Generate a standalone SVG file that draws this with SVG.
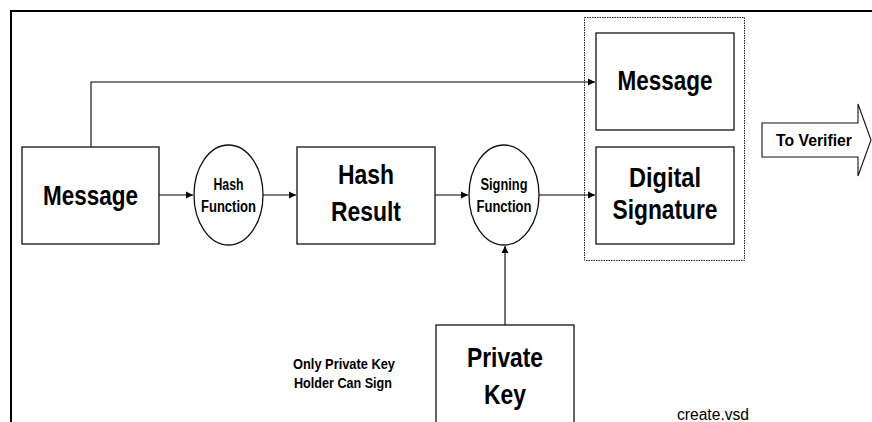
<svg xmlns="http://www.w3.org/2000/svg" width="872" height="422" viewBox="0 0 872 422">
<defs>
<marker id="ah" markerWidth="8" markerHeight="8" refX="7" refY="4" orient="auto" markerUnits="userSpaceOnUse"><path d="M0,0.5 L7,4 L0,7.5 Z" fill="#000"/></marker>
</defs>
<style>
.box{fill:#fff;stroke:#111;stroke-width:1.3}
.con{fill:none;stroke:#000;stroke-width:1.1}
.t{font-family:"Liberation Sans",Arial,sans-serif;font-weight:bold;fill:#000;text-anchor:middle}
.big{font-size:28px}
.sm{font-size:16px}
.note{font-size:14px}
.plain{font-family:"Liberation Sans",Arial,sans-serif;font-size:16px;fill:#000;text-anchor:middle}
</style>
<rect width="872" height="422" fill="#fff"/>
<path d="M11,422 V11 H872" fill="none" stroke="#000" stroke-width="2"/>
<g id="container">
<rect x="584.5" y="17.5" width="160" height="243" fill="none" stroke="#222" stroke-width="1" stroke-dasharray="1.5,1"/>
</g>
<g id="connectors">
<path class="con" d="M91,147 V82 H595" marker-end="url(#ah)"/>
<path class="con" d="M159,195 H193" marker-end="url(#ah)"/>
<path class="con" d="M263,195 H296" marker-end="url(#ah)"/>
<path class="con" d="M435,195 H468" marker-end="url(#ah)"/>
<path class="con" d="M539,195 H595" marker-end="url(#ah)"/>
<path class="con" d="M505,325 V246" marker-end="url(#ah)"/>
</g>
<g id="message">
<rect class="box" x="22" y="147" width="137" height="97"/>
<text class="t big" x="90.5" y="205" textLength="95" lengthAdjust="spacingAndGlyphs">Message</text>
</g>
<g id="hash-function">
<ellipse class="box" cx="228.5" cy="195" rx="34.5" ry="50"/>
<text class="t sm" x="228.5" y="190" textLength="30" lengthAdjust="spacingAndGlyphs">Hash</text>
<text class="t sm" x="228.5" y="212" textLength="55" lengthAdjust="spacingAndGlyphs">Function</text>
</g>
<g id="hash-result">
<rect class="box" x="297" y="147" width="138" height="97"/>
<text class="t big" x="366" y="184" textLength="56" lengthAdjust="spacingAndGlyphs">Hash</text>
<text class="t big" x="366" y="221" textLength="70" lengthAdjust="spacingAndGlyphs">Result</text>
</g>
<g id="signing-function">
<ellipse class="box" cx="504" cy="195" rx="35" ry="50"/>
<text class="t sm" x="504" y="190" textLength="47" lengthAdjust="spacingAndGlyphs">Signing</text>
<text class="t sm" x="504" y="212" textLength="55" lengthAdjust="spacingAndGlyphs">Function</text>
</g>
<g id="message-copy">
<rect class="box" x="596" y="33" width="138" height="97"/>
<text class="t big" x="665" y="90" textLength="95" lengthAdjust="spacingAndGlyphs">Message</text>
</g>
<g id="digital-signature">
<rect class="box" x="596" y="147" width="138" height="97"/>
<text class="t big" x="665" y="187" textLength="72" lengthAdjust="spacingAndGlyphs">Digital</text>
<text class="t big" x="665" y="219" textLength="105" lengthAdjust="spacingAndGlyphs">Signature</text>
</g>
<g id="private-key">
<rect class="box" x="436" y="325" width="138" height="110"/>
<text class="t big" x="505" y="367" textLength="76" lengthAdjust="spacingAndGlyphs">Private</text>
<text class="t big" x="505" y="404" textLength="42" lengthAdjust="spacingAndGlyphs">Key</text>
</g>
<g id="note">
<text class="t note" x="344" y="369" textLength="102" lengthAdjust="spacingAndGlyphs">Only Private Key</text>
<text class="t note" x="343" y="388" textLength="98" lengthAdjust="spacingAndGlyphs">Holder Can Sign</text>
</g>
<g id="to-verifier">
<polygon points="762,123 858,123 858,104 871,140 858,176 858,157 762,157" fill="#fff" stroke="#111" stroke-width="1.1"/>
<text class="t" x="814" y="146" font-size="17" textLength="76" lengthAdjust="spacingAndGlyphs">To Verifier</text>
</g>
<g id="filename">
<text class="plain" x="713" y="420" textLength="72" lengthAdjust="spacingAndGlyphs">create.vsd</text>
</g>
</svg>
